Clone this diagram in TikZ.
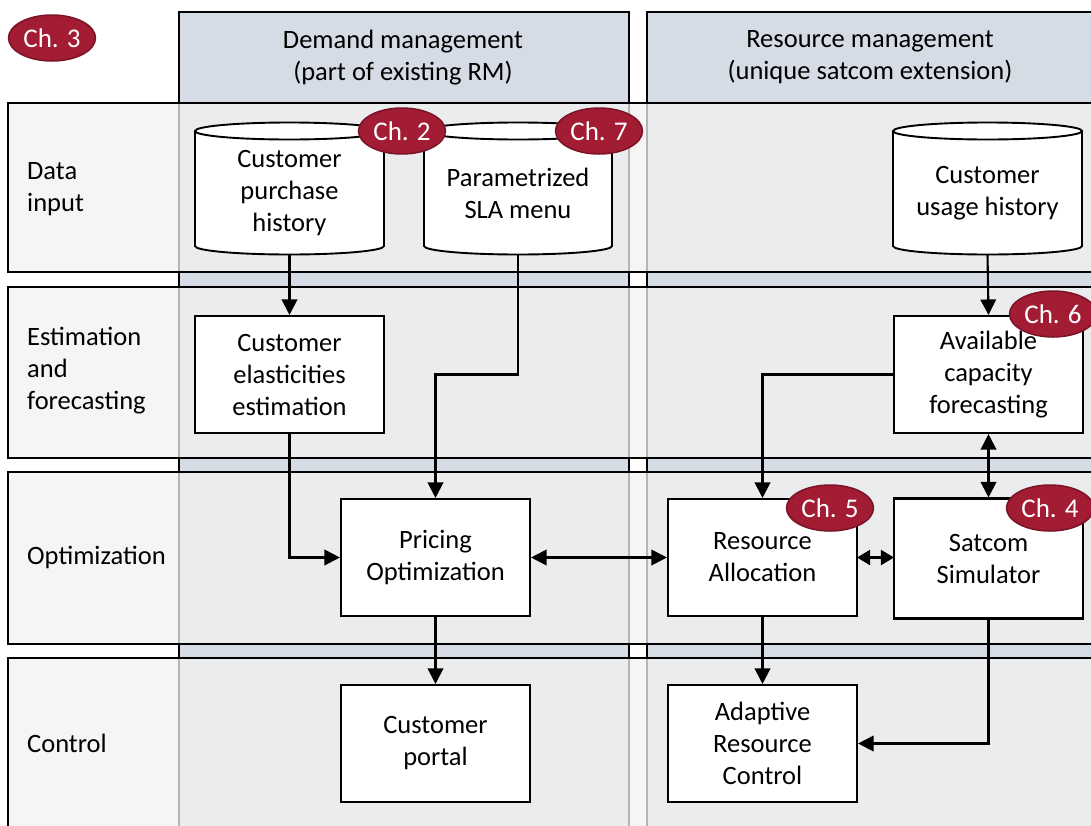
\documentclass[tikz,border=0pt]{standalone}
\usepackage{fontspec}
\setmainfont{Carlito}
\usetikzlibrary{arrows.meta,shapes.geometric}
\definecolor{colfill}{HTML}{D6DCE5}
\definecolor{rowfill}{HTML}{F2F2F2}
\definecolor{chred}{HTML}{A21C34}
\definecolor{chedge}{HTML}{7A1426}

% cylinder outline between left and right x positions
\newcommand\drumshape[2]{%
  \filldraw[fill=white, line width=1.9pt] (#1,131) -- (#1,246)
    arc[start angle=180, end angle=0, x radius={(#2-#1)/2}, y radius=8.5] -- (#2,131);
  \filldraw[fill=white, line width=1.9pt] ({(#1+#2)/2},131) ellipse[x radius={(#2-#1)/2}, y radius=8.5];
}

\begin{document}
\begin{tikzpicture}[x=1pt, y=-1pt,
  txt/.style={font=\fontsize{26.5}{32}\selectfont, align=center},
  lane/.style={draw=black, line width=1.9pt},
  procbox/.style={txt, draw=black, line width=2.1pt, fill=white,
    minimum width=189pt, minimum height=117pt, inner sep=0pt},
  drum/.style={txt, minimum width=189pt, minimum height=123pt, inner sep=0pt},
  rowlabel/.style={txt, align=left, anchor=west, inner sep=0pt},
  chapter/.style={ellipse, draw=chedge, line width=1.5pt, fill=chred, text=white,
    minimum width=87pt, minimum height=46pt, inner sep=0pt,
    font=\fontsize{27}{30}\selectfont},
  tip/.tip={Triangle[length=15.5pt,width=15.5pt]},
  shorttip/.tip={Triangle[length=13pt,width=15pt]},
  flow/.style={line width=2.1pt, -tip},
  both/.style={line width=2.1pt, tip-tip},
  bothshort/.style={line width=2.1pt, shorttip-shorttip, shorten <=-1pt, shorten >=-1pt}
]
\useasboundingbox (0,0) rectangle (1091,825);
\clip (0,0) rectangle (1091,825);

% columns
\draw[lane, fill=colfill] (179,12) rectangle (629,845);
\draw[lane, fill=colfill] (647,12) rectangle (1115,845);

% rows
\foreach \t/\b in {103/272, 287/458, 472/644, 658/845}
  \draw[lane, fill=rowfill, fill opacity=0.75] (8,\t) rectangle (1115,\b);

% column headers
\node[txt] (hdem) at (403,58) {Demand management\\(part of existing RM)};
\node[txt] (hres) at (870,57.5) {Resource management\\(unique satcom extension)};

% row labels
\node[rowlabel] (rdata) at (27,189) {Data\\input};
\node[rowlabel] (rest) at (27,371) {Estimation\\and\\forecasting};
\node[rowlabel] (ropt) at (27,557) {Optimization};
\node[rowlabel] (rctl) at (27,743) {Control};

% data stores
\drumshape{195}{384}
\drumshape{424}{612}
\drumshape{893}{1082}
\node[drum] (purch) at (289.5,193) {Customer\\purchase\\history};
\node[drum] (sla) at (518,193) {Parametrized\\SLA menu};
\node[drum] (usage) at (987.5,193) {Customer\\usage history};

% process boxes
\node[procbox] (elast) at (289.5,374.5) {Customer\\elasticities\\estimation};
\node[procbox] (avail) at (988.5,374.5) {Available\\capacity\\forecasting};
\node[procbox] (pricing) at (435.5,557.5) {Pricing\\Optimization};
\node[procbox] (alloc) at (762.5,557.5) {Resource\\Allocation};
\node[procbox, minimum height=120pt] (simul) at (988.5,558.5) {Satcom\\Simulator};
\node[procbox] (portal) at (435.5,743.5) {Customer\\portal};
\node[procbox] (adapt) at (762.5,743.5) {Adaptive\\Resource\\Control};

% connectors
\draw[flow] (purch.south) -- (elast.north);
\draw[flow] (sla.south) -- (sla.south |- avail.west) -| (pricing.north);
\draw[flow] (elast.south) |- (pricing.west);
\draw[both] (pricing.east) -- (alloc.west);
\draw[flow] (pricing.south) -- (portal.north);
\draw[flow] (usage.south) -- (avail.north);
\draw[flow] (avail.west) -| (alloc.north);
\draw[both] (avail.south) -- (simul.north);
\draw[bothshort] (alloc.east) -- (simul.west |- alloc.east);
\draw[flow] (alloc.south) -- (adapt.north);
\draw[flow] (simul.south) |- (adapt.east);

% chapter markers
\node[chapter] (ch3) at (52,38) {Ch. 3};
\node[chapter] (ch2) at (402,131) {Ch. 2};
\node[chapter] (ch7) at (599,131) {Ch. 7};
\node[chapter] (ch6) at (1053,314) {Ch. 6};
\node[chapter] (ch5) at (830,508) {Ch. 5};
\node[chapter] (ch4) at (1050,508) {Ch. 4};
\end{tikzpicture}
\end{document}
